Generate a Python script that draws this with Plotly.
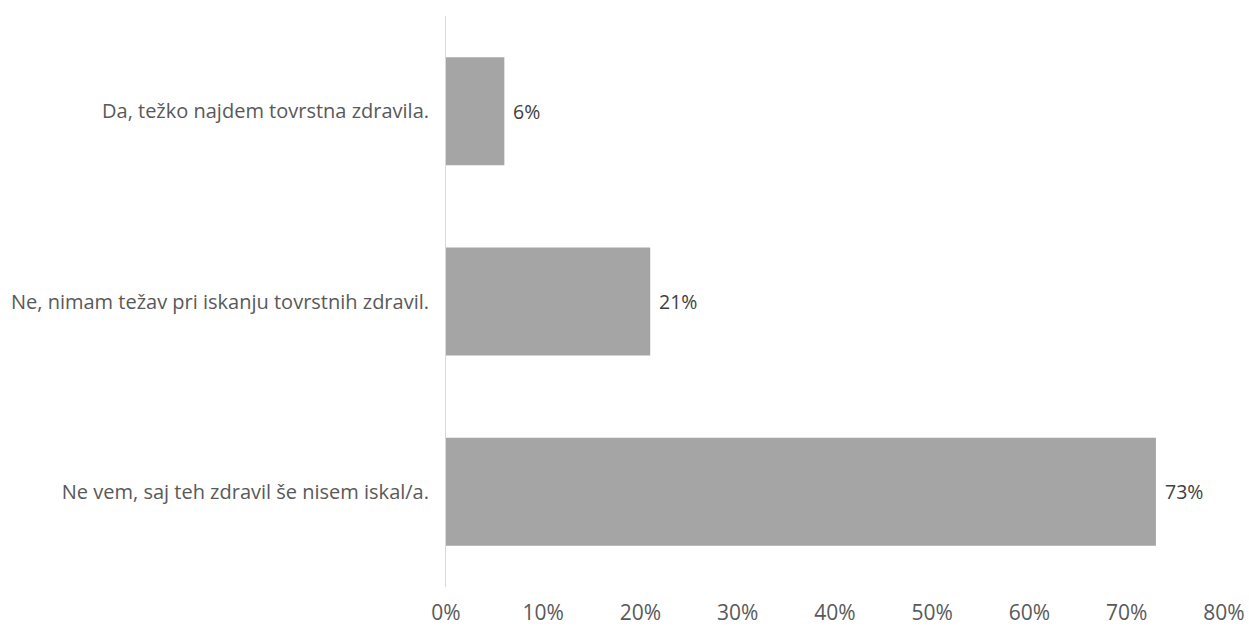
import plotly.graph_objects as go

# Survey answers (bottom to top as drawn) and their shares
answers = [
    "Ne vem, saj teh zdravil še nisem iskal/a.",
    "Ne, nimam težav pri iskanju tovrstnih zdravil.",
    "Da, težko najdem tovrstna zdravila.",
]
shares = [0.73, 0.21, 0.06]
tick_vals = [0, 0.1, 0.2, 0.3, 0.4, 0.5, 0.6, 0.7, 0.8]
tick_text = ["0%", "10%", "20%", "30%", "40%", "50%", "60%", "70%", "80%"]

FONT = "Open Sans"

fig = go.Figure(
    go.Bar(
        x=shares,
        y=answers,
        orientation="h",
        marker=dict(color="#a5a5a5", line=dict(width=0)),
        hoverinfo="skip",
    )
)

# value labels to the right of each bar
for a, s in zip(answers, shares):
    fig.add_annotation(
        x=s, y=a, text=f"{round(s * 100)}%", showarrow=False,
        xanchor="left", xshift=7,
        font=dict(family=FONT, size=19.5, color="#404040"),
    )

fig.update_layout(
    width=1249, height=630,
    margin=dict(l=446, r=25, t=16, b=43, autoexpand=False),
    paper_bgcolor="white", plot_bgcolor="white",
    bargap=0.433,
    showlegend=False,
    font=dict(family=FONT),
)
fig.update_xaxes(
    range=[0, 0.8], tickvals=tick_vals, ticktext=tick_text,
    showgrid=False, zeroline=False, showline=False,
    tickfont=dict(family=FONT, size=21, color="#595959"),
    ticklabelstandoff=11, automargin=False,
)
fig.update_yaxes(
    showgrid=False, zeroline=False,
    showline=True, linecolor="#d9d9d9", linewidth=1,
    ticks="", ticklabelstandoff=12, automargin=False,
    tickfont=dict(family=FONT, size=20, color="#595959"),
)

fig.write_html("out.html")
